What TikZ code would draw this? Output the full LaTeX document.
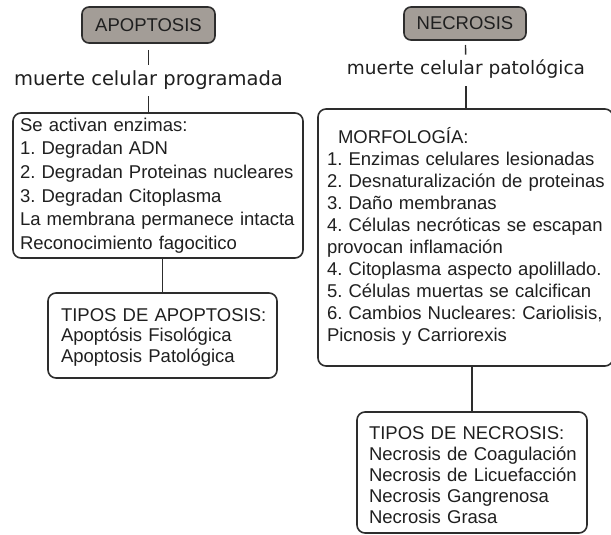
\documentclass[tikz,border=0pt]{standalone}
\usepackage{fontspec}
\setmainfont{Liberation Sans}
\newfontfamily\headfont{DejaVu Sans}
\definecolor{boxgray}{RGB}{163,157,151}
\definecolor{linegray}{RGB}{45,45,45}
\frenchspacing

\begin{document}
\begin{tikzpicture}[x=1pt, y=-1pt,
  every node/.style={outer sep=0pt, text=black!88},
  title/.style={draw=linegray, line width=1.6pt, fill=boxgray, rounded corners=7pt, inner sep=0pt, font=\fontsize{18.5}{21}\selectfont},
  head/.style={inner sep=0pt, anchor=base},
  box/.style={draw=linegray, line width=1.6pt, rounded corners=8pt, align=left, anchor=north west, inner ysep=0pt},
  link/.style={draw=linegray, line width=1.4pt}]
\useasboundingbox (0,0) rectangle (611,535);

\node[title, minimum width=133pt, minimum height=36pt] (apo) at (148.5,25) {APOPTOSIS};
\node[head, font=\headfont\fontsize{19.5}{23}\selectfont] (defapo) at (148.5,86) {muerte celular programada};
\node[box, inner xsep=7pt, text width=276pt, minimum height=145pt, font=\fontsize{18.5}{23.6}\selectfont] (enz) at (13,113)
  {\begin{tabular}{@{}l@{}}Se activan enzimas:\\1. Degradan ADN\\2. Degradan Proteinas nucleares\\3. Degradan Citoplasma\\La membrana permanece intacta\\Reconocimiento fagocitico\end{tabular}};
\node[box, inner xsep=13pt, text width=203pt, minimum height=85pt, font=\fontsize{18.5}{20.5}\selectfont] (tiposapo) at (48,293)
  {\begin{tabular}{@{}l@{}}\rule{0pt}{19pt}TIPOS DE APOPTOSIS:\\Apoptósis Fisológica\\Apoptosis Patológica\end{tabular}};

\node[title, minimum width=122pt, minimum height=33pt] (necro) at (465,23.5) {NECROSIS};
\node[head, font=\headfont\fontsize{18.5}{22}\selectfont] (defnecro) at (466,74.5) {muerte celular patológica};
\node[box, inner xsep=9pt, text width=277pt, minimum height=257pt, font=\fontsize{18.5}{22}\selectfont] (morf) at (318,109)
  {\begin{tabular}{@{}l@{}}\hspace*{11pt}MORFOLOGÍA:\\1. Enzimas celulares lesionadas\\2. Desnaturalización de proteinas\\3. Daño membranas\\4. Células necróticas se escapan\\provocan inflamación\\4. Citoplasma aspecto apolillado.\\5. Células muertas se calcifican\\6. Cambios Nucleares: Cariolisis,\\Picnosis y Carriorexis\end{tabular}};
\node[box, inner xsep=12pt, text width=206pt, minimum height=121pt, font=\fontsize{18.5}{21}\selectfont] (tiposnecro) at (357,412)
  {\begin{tabular}{@{}l@{}}\rule{0pt}{25pt}TIPOS DE NECROSIS:\\Necrosis de Coagulación\\Necrosis de Licuefacción\\Necrosis Gangrenosa\\Necrosis Grasa\end{tabular}};

\draw[link, shorten <=7pt, shorten >=6pt] (apo) -- (defapo);
\draw[link, shorten <=6pt] (defapo.south) -- (defapo.south |- enz.north);
\draw[link] (tiposapo.north |- enz.south) -- (tiposapo.north);
\draw[link, shorten <=5pt, shorten >=5pt] (necro) -- (defnecro);
\draw[link, shorten <=8pt] (defnecro.south) -- (defnecro.south |- morf.north);
\draw[link] (tiposnecro.north |- morf.south) -- (tiposnecro.north);
\end{tikzpicture}
\end{document}
